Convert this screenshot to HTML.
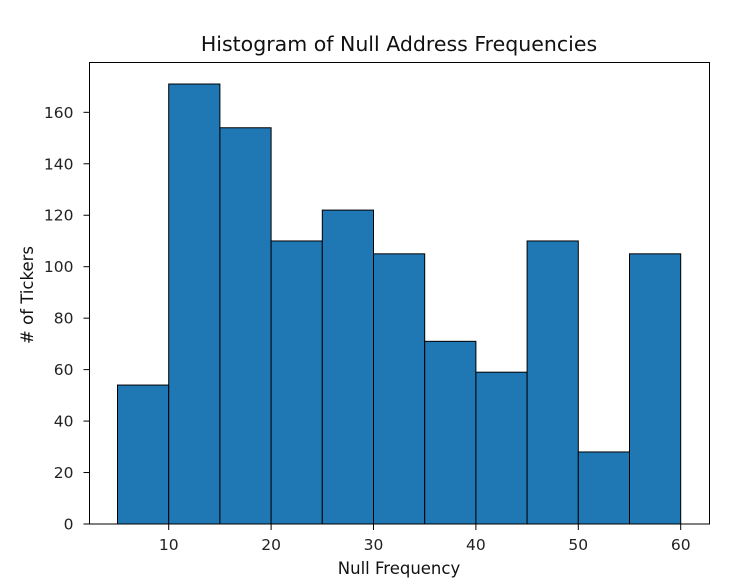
<!DOCTYPE html>
<html><head><meta charset="utf-8"><style>
body{margin:0;background:#fff;}
svg{display:block;font-family:"DejaVu Sans","Liberation Sans",sans-serif;}
</style></head><body>
<svg width="736" height="588">
<g id="bars"></g><g id="axes"></g>
</svg>
<script>
const binStarts=[5,10,15,20,25,30,35,40,45,50,55];
const counts=[54,171,154,110,122,105,71,59,110,28,105];
const binWidth=5;
const xTicks=[10,20,30,40,50,60];
const yTicks=[0,20,40,60,80,100,120,140,160];
const L=89.5,R=709.5,T=62.5,B=524;
const X=v=>168.7+(v-10)*10.24;
const Y=v=>B-v*2.573;
const NS="http://www.w3.org/2000/svg";
function mk(t,a,p){const e=document.createElementNS(NS,t);for(const k in a)e.setAttribute(k,a[k]);p.appendChild(e);return e;}
const bars=document.getElementById('bars'),axes=document.getElementById('axes');
binStarts.forEach((s,i)=>{
  const r=mk('rect',{x:X(s),y:Y(counts[i]),width:X(s+binWidth)-X(s),height:B-Y(counts[i]),fill:'#1f77b4',stroke:'#000','stroke-width':1},bars);
  
  
});
const f=mk('rect',{x:L,y:T,width:R-L,height:B-T,fill:'none',stroke:'#000','stroke-width':1},axes);


xTicks.forEach(v=>{
  mk('line',{x1:X(v),x2:X(v),y1:B,y2:B+6,stroke:'#000'},axes);
  const t=mk('text',{x:X(v),y:B+26,'text-anchor':'middle','font-size':15.5,fill:'#222'},axes);
  t.textContent=v;
  
  
});
yTicks.forEach(v=>{
  mk('line',{x1:L-6,x2:L,y1:Y(v),y2:Y(v),stroke:'#000'},axes);
  const t=mk('text',{x:L-16,y:Y(v)+5.5,'text-anchor':'end','font-size':15.5,fill:'#222'},axes);
  t.textContent=v;
  
  
});
</script>
<svg style="position:absolute;left:0;top:0" width="736" height="588">
<text x="399" y="51" text-anchor="middle" font-size="20.5" fill="#111">Histogram of Null Address Frequencies</text>
<text x="399" y="574" text-anchor="middle" font-size="16.5" fill="#111">Null Frequency</text>
<text transform="translate(33,295) rotate(-90)" text-anchor="middle" font-size="16.5" fill="#111"># of Tickers</text>
</svg>
</body></html>
